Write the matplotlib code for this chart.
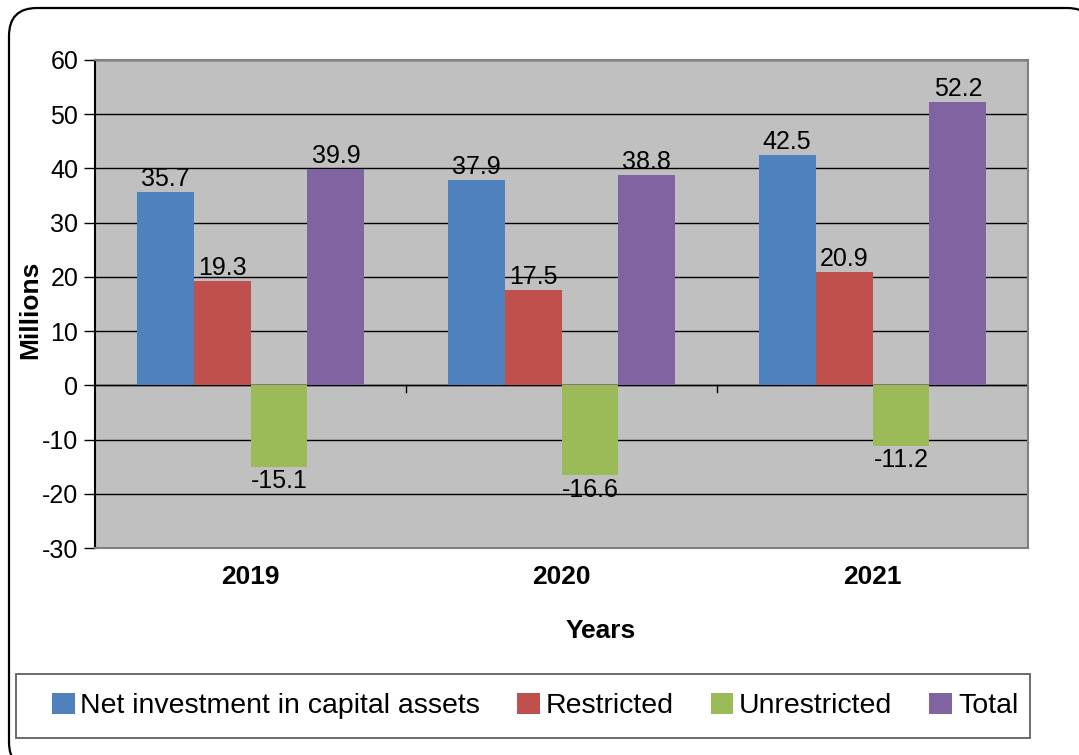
import matplotlib.pyplot as plt
import numpy as np
from matplotlib.patches import FancyBboxPatch, Rectangle

years = ["2019", "2020", "2021"]
series = ["Net investment in capital assets", "Restricted", "Unrestricted", "Total"]
net_invest = [35.7, 37.9, 42.5]
restricted = [19.3, 17.5, 20.9]
unrestricted = [-15.1, -16.6, -11.2]
total = [39.9, 38.8, 52.2]
colors = ["#4f81bd", "#c0504d", "#9bbb59", "#8064a2"]

plt.rcParams['font.family'] = ['Liberation Sans', 'DejaVu Sans']
plt.rcParams['axes.unicode_minus'] = False

W, H = 1079, 755
fig = plt.figure(figsize=(W / 100, H / 100), dpi=100)

# background layer in pixel coords: rounded outer frame + legend box
bg = fig.add_axes([0, 0, 1, 1])
bg.set_xlim(0, W)
bg.set_ylim(H, 0)
bg.axis("off")
bg.set_zorder(0)
bg.add_patch(FancyBboxPatch((9, 8), 1086, 762, boxstyle="round,pad=0,rounding_size=28",
                            facecolor="white", edgecolor="black", linewidth=1.6))
bg.add_patch(Rectangle((16, 674), 1014, 64, facecolor="white", edgecolor="#606060",
                       linewidth=1.3))

ax = fig.add_axes([95 / W, 1 - 548 / H, (1028 - 95) / W, (548 - 60) / H])
ax.set_zorder(2)
ax.set_facecolor("#c0c0c0")

x = np.arange(len(years))
width = 0.183
data = [net_invest, restricted, unrestricted, total]
for i, (vals, name) in enumerate(zip(data, series)):
    pos = x + (i - 1.5) * width
    ax.bar(pos, vals, width, color=colors[i], label=name, zorder=3)
    for p, v in zip(pos, vals):
        if v >= 0:
            ax.text(p, v + 0.2, f"{v}", ha="center", va="bottom", fontsize=18, zorder=4)
        else:
            ax.text(p, v - 0.4, f"{v}", ha="center", va="top", fontsize=18, zorder=4)

ax.set_xlim(-0.5, 2.5)
ax.set_ylim(-30, 60)
ax.set_yticks(range(-30, 61, 10))
ax.yaxis.grid(True, color="black", linewidth=1)
ax.set_axisbelow(True)
ax.axhline(0, color="black", linewidth=1, zorder=2.5)
for b in [0.5, 1.5]:
    ax.plot([b, b], [0, -1.2], color="black", linewidth=1, zorder=2.5, clip_on=False)

ax.set_xticks(x)
ax.set_xticklabels(years, fontsize=19, fontweight="bold")
ax.tick_params(axis="x", length=0, pad=12)
ax.tick_params(axis="y", labelsize=18, length=8, width=1, pad=4)
for s in ["top", "right", "bottom"]:
    ax.spines[s].set_color("#808080")
    ax.spines[s].set_linewidth(1.5)
ax.spines["left"].set_color("black")
ax.spines["left"].set_linewidth(1.5)

ax.set_ylabel("Millions", fontsize=19, fontweight="bold")
ax.yaxis.set_label_coords(-0.057, 0.488)
ax.set_xlabel("Years", fontsize=19, fontweight="bold")
ax.xaxis.set_label_coords(0.542, -0.145)

leg = fig.legend(loc="center", bbox_to_anchor=(535 / W, 1 - 706 / H),
                 ncol=4, fontsize=20.5, frameon=False, handlelength=0.8,
                 handleheight=0.8, handletextpad=0.2, columnspacing=1.3, borderaxespad=0)
leg.set_zorder(3)

fig.savefig("out.png", dpi=100)
